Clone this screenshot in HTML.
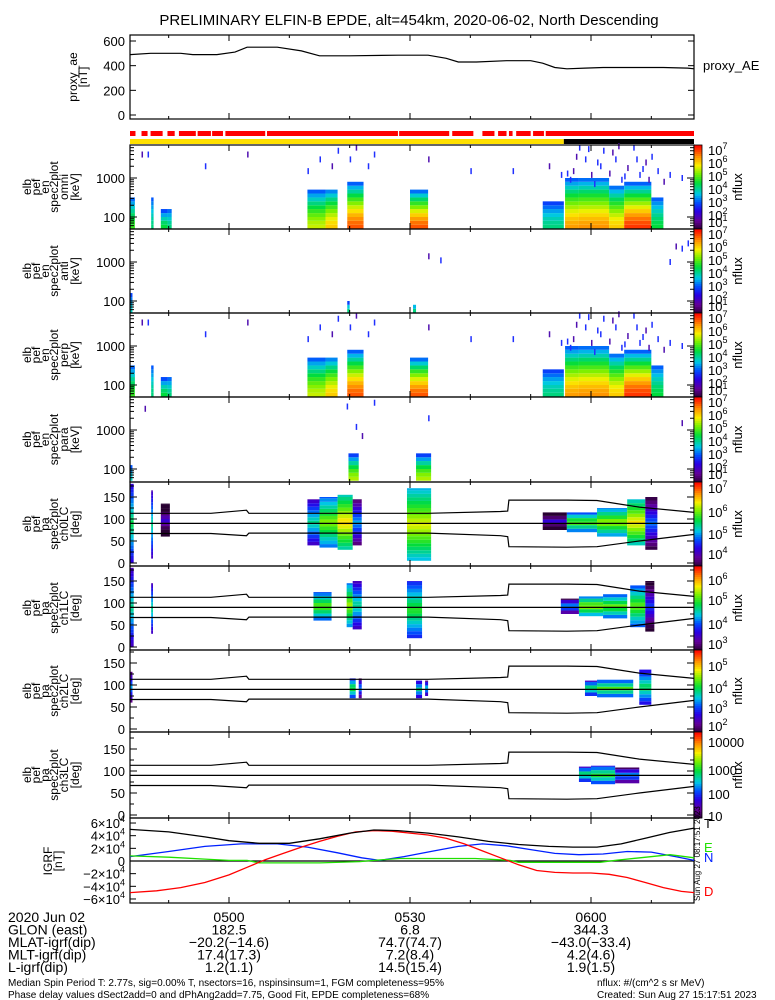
<!DOCTYPE html>
<html><head><meta charset="utf-8">
<style>
html,body{margin:0;padding:0;background:#fff;}
svg{display:block;font-family:"Liberation Sans",sans-serif;}
</style></head>
<body>
<svg id="c" width="775" height="1000" viewBox="0 0 775 1000" xmlns="http://www.w3.org/2000/svg">
<text x="409" y="25" font-size="15" text-anchor="middle">PRELIMINARY ELFIN-B EPDE, alt=454km, 2020-06-02, North Descending</text>
</svg>
<script>
// ---------- data ----------
// time in minutes relative to 05:00 UT
const aeTimes=[-16.4,-13,-8,-6,-2,1,3,8,12,15,20,28,33,36,38,41,46,50,52,54,56,59,62,66,72,76,77.1];
const aeValues=[490,500,500,490,490,510,550,550,520,480,480,485,485,460,430,430,440,440,420,385,375,380,385,385,385,380,375];
const tickTimes=[0,30,60];
const tickLabels=["0500","0530","0600"];
const redGaps=[[-15.5,-14.5],[-13.5,-13],[-11,-10.2],[-9,-8.3],[-5.5,-5.2],[-3,-2.8],[-1,-0.6],[6,6.3],[28,28.2],[36.5,37],[40.5,42],[44,44.6],[46,46.4],[47,47.6],[50,50.4],[52.2,52.5]];
const eclipseStart=55.5;
// energy spectrogram bursts: start, end (min), top energy (keV), peak (0..1 of colorbar)
const omniT0=[-16.4,-12.9,-11.3,-10.2,13,16,19.6,30,52,55.7,58,63,65.5,70];
const omniT1=[-15.6,-12.5,-10.2,-9.5,16,18,22.3,33,55.5,58,63,65.5,70,72];
const omniTop=[300,300,130,150,450,500,700,450,200,900,950,600,700,300];
const omniPeak=[0.6,0.5,0.55,0.5,0.72,0.8,0.92,0.92,0.5,0.85,0.86,0.8,0.95,0.55];
const omniDotT=[-14.5,-13.5,-4,3,13,15,17,18,20,21,23,24,33,40,47,53,55,56,57,58,59,60,61,62,63,64,65,66,67,68,69,70,71,72,73,75,57.5,59.5,61.5,63.5,65.5,67.5,69.5,56.5,60.5,64.5,68.5];
const omniDotK=[4000,4000,2000,4000,1500,3000,2000,5000,3000,6000,2000,4000,3000,1500,1500,2000,1200,1300,1500,6000,3000,1200,2500,5000,1300,3000,900,1800,6000,1200,2500,3500,1500,800,1200,1000,3500,5500,2000,4500,1100,3000,900,900,700,6500,1700];
const antiT0=[-16.4,19.6,30.5];
const antiT1=[-16,20,31];
const antiTop=[130,80,75];
const antiPeak=[0.45,0.5,0.5];
const antiDotT=[33,35,73,74,75,76];
const antiDotK=[1400,1100,1000,2500,2200,3000];
const paraT0=[-16.4,19.8,31];
const paraT1=[-16,21.5,33.5];
const paraTop=[110,200,200];
const paraPeak=[0.45,0.7,0.7];
const paraDotT=[-14,19.5,21,22,24,33,75];
const paraDotK=[3500,4000,1200,700,5000,2000,1500];
// pitch-angle bursts: start,end (min), lo/hi pitch (deg), peak
const ch0T0=[-16.4,-12.9,-11.3,13,15,18,20.5,29.5,52,56,61,66,69];
const ch0T1=[-15.8,-12.6,-9.8,15,18,20.5,22,33.5,56,61,66,69,71];
const ch0Lo=[0,10,60,40,35,30,40,5,75,70,60,40,30];
const ch0Hi=[180,165,135,145,150,155,145,170,115,115,125,145,150];
const ch0Pk=[0.55,0.5,0.2,0.5,0.68,0.8,0.4,0.75,0.2,0.65,0.7,0.78,0.35];
const ch1T0=[-16.4,-12.9,14,19.5,20.5,29.5,55,58,62,66.5,69];
const ch1T1=[-15.8,-12.6,17,20.5,22,32,58,62,66,69,70.5];
const ch1Lo=[0,30,60,45,40,20,75,70,65,45,35];
const ch1Hi=[180,145,125,145,150,150,110,115,120,140,150];
const ch1Pk=[0.5,0.5,0.65,0.7,0.5,0.6,0.4,0.7,0.65,0.65,0.3];
const ch2T0=[-16.4,20,21.5,31,32.5,59,61,68];
const ch2T1=[-16,21,22,32,33,61,67,70];
const ch2Lo=[60,70,70,70,75,75,72,55];
const ch2Hi=[130,115,115,110,110,110,112,135];
const ch2Pk=[0.4,0.6,0.4,0.5,0.45,0.55,0.62,0.55];
const ch3T0=[58,60,64];
const ch3T1=[60,64,68];
const ch3Lo=[75,70,72];
const ch3Hi=[110,112,108];
const ch3Pk=[0.55,0.6,0.4];
// loss-cone boundaries (deg)
const lcTimes=[-16.4,-3,2.9,3.3,20,33,45,46.2,46.4,56,61,68,77.1];
const lcUp=[113,113,120,113,113,113,117,118,143,143,142,127,115];
const lcDn=[67,67,62,68,68,68,62,60,37,36,37,50,65];
// IGRF components (x1e4 nT)
const igrfTT=[-16.4,-10,-4,0,5,10,15,20,24,28,33,38,43,48,53,57,61,65,69,73,77.1];
const igrfT=[5.0,4.6,3.8,3.2,2.8,2.8,3.5,4.4,4.9,4.8,4.4,3.8,3.1,2.6,2.3,2.2,2.2,2.7,3.6,4.5,5.2];
const igrfNT=[-16.4,-10,-4,2,8,13,18,22,25,29,34,38,42,46,50,54,58,62,66,70,74,77.1];
const igrfN=[0.7,1.5,2.3,2.7,2.7,2.2,1.3,0.5,0.1,0.7,1.6,2.3,2.7,2.4,1.8,1.2,1.0,1.1,1.5,1.4,0.7,0.1];
const igrfET=[-16.4,-10,-4,0,3,5,15.1,21.7,24,28.3,40.8,46.6,48,53.2,61.5,64,68.1,73.1,77.1];
const igrfE=[0.8,0.6,0.3,0.1,0.1,-0.3,-0.3,-0.1,0.1,0.4,0.4,0.1,-0.2,-0.2,-0.2,0.1,0.5,1.0,0.5];
const igrfDT=[-16.4,-12,-8,-4,0,3,6,9,12,15,18,21,24,27,30,33,36,39,42,45,48,51,54,57,60,63,66,69,72,75,77.1];
const igrfD=[-5.0,-4.7,-4.2,-3.4,-2.2,-1.0,0.2,1.2,2.2,3.1,3.9,4.6,4.8,4.7,4.4,4.1,3.6,2.7,1.6,0.5,-0.6,-1.5,-1.8,-1.9,-1.9,-2.1,-2.6,-3.4,-4.2,-4.8,-5.0];

// ---------- helpers ----------
const svg=document.getElementById('c');
const NS='http://www.w3.org/2000/svg';
const X0=130,X1=694;
function tx(m){return 229+m*181/30;}
function el(tag,attrs,parent){const e=document.createElementNS(NS,tag);for(const k in attrs)e.setAttribute(k,attrs[k]);(parent||svg).appendChild(e);return e;}
const stops=[[0,[40,0,50]],[0.1,[100,0,150]],[0.22,[40,0,230]],[0.32,[0,80,255]],[0.42,[0,200,230]],[0.55,[0,220,60]],[0.66,[120,240,0]],[0.76,[250,240,0]],[0.87,[255,140,0]],[1,[255,0,0]]];
function cmap(v){v=Math.max(0,Math.min(1,v));for(let i=1;i<stops.length;i++){if(v<=stops[i][0]){const a=stops[i-1],b=stops[i],f=(v-a[0])/(b[0]-a[0]);const c=a[1].map((x,j)=>Math.round(x+(b[1][j]-x)*f));return `rgb(${c[0]},${c[1]},${c[2]})`;}}return 'rgb(255,0,0)';}
function rotLabel(lines,cy,xs,name){
  const g=el('g',{});
  
  
  lines.forEach((s,i)=>{const t=el('text',{x:xs[i],y:cy,'font-size':12,'text-anchor':'middle',transform:`rotate(-90 ${xs[i]} ${cy})`},g);t.textContent=s;});
}
function frame(y0,y1,name){
  const r=el('rect',{x:X0,y:y0,width:X1-X0,height:y1-y0,fill:'none',stroke:'#000','stroke-width':1.2});
  
  
  for(let m=-10;m<=70;m+=10){const x=tx(m);const L=(m%30===0)?6:3;el('line',{x1:x,y1:y0,x2:x,y2:y0+L,stroke:'#000'});el('line',{x1:x,y1:y1,x2:x,y2:y1-L,stroke:'#000'});}
}
function ylabel(txt,x,y,name,fs){const t=el('text',{x:x,y:y,'font-size':fs||13,'text-anchor':'end'});t.textContent=txt;return t;}
function colorbar(y0,y1,labels,name){
  const g=el('g',{});
  
  
  const n=40;for(let i=0;i<n;i++){const h=(y1-y0)/n;el('rect',{x:694,y:y1-(i+1)*h,width:8,height:h+0.5,fill:cmap((i+0.5)/n)},g);}
  el('rect',{x:694,y:y0,width:8,height:y1-y0,fill:'none',stroke:'#000','stroke-width':0.8},g);
  labels.forEach(l=>{const t=el('text',{x:708,y:l[1]+5,'font-size':13},g);if(l[2]){t.textContent='10';const s=el('tspan',{dy:-6,'font-size':9},t);s.textContent=l[0];}else t.textContent=l[0];});
  const cy=(y0+y1)/2;const t=el('text',{x:742,y:cy,'font-size':13,'text-anchor':'middle',transform:`rotate(-90 742 ${cy})`},g);t.textContent='nflux';
}

// ---------- proxy AE ----------
frame(35,119,'proxy-ae-panel');
const aeY=v=>115-v*74/600;
[[600,'600'],[400,'400'],[200,'200'],[0,'0']].forEach(p=>{ylabel(p[1],125,aeY(p[0])+5,'ae-tick-'+p[1]);el('line',{x1:X0,y1:aeY(p[0]),x2:X0+6,y2:aeY(p[0]),stroke:'#000'});el('line',{x1:X1,y1:aeY(p[0]),x2:X1-6,y2:aeY(p[0]),stroke:'#000'});});
{let d='';aeTimes.forEach((t,i)=>{d+=(i?'L':'M')+tx(t).toFixed(1)+','+aeY(aeValues[i]).toFixed(1);});
const p=el('path',{d:d,fill:'none',stroke:'#000','stroke-width':1.2});

}
rotLabel(['proxy_ae','[nT]'],77,[77,87],'proxy-ae-axis-title');
{const t=el('text',{x:703,y:70,'font-size':13});t.textContent='proxy_AE';}

// ---------- status bars ----------
{const r=el('rect',{x:X0,y:131,width:X1-X0,height:5,fill:'#ff0000'});
redGaps.forEach(g=>el('rect',{x:tx(g[0]),y:130,width:tx(g[1])-tx(g[0]),height:7,fill:'#fff'}));
const y=el('rect',{x:X0,y:139,width:tx(eclipseStart)-X0,height:5,fill:'#ffe000'});
const b=el('rect',{x:tx(eclipseStart),y:139,width:X1-tx(eclipseStart),height:5,fill:'#000'});}

// ---------- energy spectrograms ----------
function energyPanel(y0,y1,T0,T1,Top,Pk,DT,DK,name,sub){
  const ey=k=>(y0+72)-Math.log10(k/100)*39;
  const g=el('g',{});
  
  
  const bins=[50,63,80,100,126,160,200,252,317,400,504,635,800,1000,1260];
  T0.forEach((t0,i)=>{
    const x0=tx(t0),x1=tx(T1[i]);
    for(let b=0;b<bins.length-1;b++){
      if(bins[b]>Top[i])break;
      const f=Math.log(bins[b]/50)/Math.log(Top[i]/50);
      const v=Pk[i]-Math.pow(f,1.4)*(Pk[i]-0.3);
      const ya=Math.max(y0,ey(bins[b+1])),yb=Math.min(y1,ey(bins[b]));
      el('rect',{x:x0,y:ya,width:Math.max(1.5,x1-x0),height:yb-ya,fill:cmap(v)},g);
    }
  });
  DT.forEach((t,i)=>el('rect',{x:tx(t),y:ey(DK[i])-3,width:1.5,height:6,fill:i%3?'#2030ff':'#5010b0'},g));
  frame(y0,y1,name+'-frame');
  [[1000,'1000'],[100,'100']].forEach(p=>{ylabel(p[1],125,ey(p[0])+5,name+'-tick-'+p[1]);el('line',{x1:X0,y1:ey(p[0]),x2:X0+7,y2:ey(p[0]),stroke:'#000'});el('line',{x1:X1,y1:ey(p[0]),x2:X1-7,y2:ey(p[0]),stroke:'#000'});});
  [60,70,80,90,200,300,400,500,600,700,800,900,2000,3000,4000,5000,6000].forEach(k=>{const y=ey(k);if(y>y0&&y<y1){el('line',{x1:X0,y1:y,x2:X0+4,y2:y,stroke:'#000'});el('line',{x1:X1,y1:y,x2:X1-4,y2:y,stroke:'#000'});}});
  rotLabel(['elb','pef','en','spec2plot',sub,'[keV]'],(y0+y1)/2,[31,40,49,58,68,79],name+'-axis-title');
  colorbar(y0,y1,[['7',y0+5,1],['6',y0+18,1],['5',y0+31,1],['4',y0+44,1],['3',y0+57,1],['2',y0+70,1],['1',y0+77,1]],name+'-colorbar');
}
energyPanel(145,229,omniT0,omniT1,omniTop,omniPeak,omniDotT,omniDotK,'omni','omni');
energyPanel(229,313,antiT0,antiT1,antiTop,antiPeak,antiDotT,antiDotK,'anti','anti');
energyPanel(313,397,omniT0,omniT1,omniTop,omniPeak,omniDotT,omniDotK,'perp','perp');
energyPanel(397,482,paraT0,paraT1,paraTop,paraPeak,paraDotT,paraDotK,'para','para');

// ---------- pitch angle spectrograms ----------
function paPanel(y0,y1,T0,T1,Lo,Hi,Pk,name,sub,cbl){
  const py=pa=>(y1-3)-pa*0.44;
  const g=el('g',{});
  
  
  T0.forEach((t0,i)=>{
    const x0=tx(t0),x1=tx(T1[i]);const mid=(Lo[i]+Hi[i])/2,half=(Hi[i]-Lo[i])/2;
    for(let pa=Lo[i];pa<Hi[i];pa+=8){
      const v=Pk[i]-0.35*Math.abs(pa+4-mid)/half;
      const ya=Math.max(y0,py(Math.min(pa+8,Hi[i]))),yb=py(pa);
      el('rect',{x:x0,y:ya,width:Math.max(1.5,x1-x0),height:yb-ya,fill:cmap(v)},g);
    }
  });
  frame(y0,y1,name+'-frame');
  [150,100,50,0].forEach(p=>{ylabel(String(p),125,py(p)+5,name+'-tick-'+p);el('line',{x1:X0,y1:py(p),x2:X0+7,y2:py(p),stroke:'#000'});el('line',{x1:X1,y1:py(p),x2:X1-7,y2:py(p),stroke:'#000'});});
  [25,75,125,175].forEach(p=>{el('line',{x1:X0,y1:py(p),x2:X0+4,y2:py(p),stroke:'#000'});el('line',{x1:X1,y1:py(p),x2:X1-4,y2:py(p),stroke:'#000'});});
  el('line',{x1:X0,y1:py(90),x2:X1,y2:py(90),stroke:'#000','stroke-width':1.2});
  let du='',dd='';lcTimes.forEach((t,i)=>{du+=(i?'L':'M')+tx(t).toFixed(1)+','+py(lcUp[i]).toFixed(1);dd+=(i?'L':'M')+tx(t).toFixed(1)+','+py(lcDn[i]).toFixed(1);});
  const a=el('path',{d:du,fill:'none',stroke:'#000','stroke-width':1.2});
  const b=el('path',{d:dd,fill:'none',stroke:'#000','stroke-width':1.2});
  rotLabel(['elb','pef','pa','spec2plot',sub,'[deg]'],(y0+y1)/2,[31,40,49,58,68,79],name+'-axis-title');
  colorbar(y0,y1,cbl.map(c=>[c[0],y0+c[1],c[2]]),name+'-colorbar');
}
paPanel(482,566,ch0T0,ch0T1,ch0Lo,ch0Hi,ch0Pk,'ch0lc','ch0LC',[['7',6,1],['6',30,1],['5',52,1],['4',72,1]]);
paPanel(566,650,ch1T0,ch1T1,ch1Lo,ch1Hi,ch1Pk,'ch1lc','ch1LC',[['6',14,1],['5',34,1],['4',58,1],['3',78,1]]);
paPanel(650,732,ch2T0,ch2T1,ch2Lo,ch2Hi,ch2Pk,'ch2lc','ch2LC',[['5',16,1],['4',38,1],['3',58,1],['2',76,1]]);
paPanel(732,818,ch3T0,ch3T1,ch3Lo,ch3Hi,ch3Pk,'ch3lc','ch3LC',[['10000',10,0],['1000',38,0],['100',62,0],['10',84,0]]);

// ---------- IGRF ----------
frame(818,903,'igrf-panel');
const iy=v=>861-v*6.33;
[6,4,2,0,-2,-4,-6].forEach(v=>{const t=ylabel('',125,iy(v)+5,'igrf-tick-'+v);if(v===0)t.textContent='0';else{t.textContent=(v<0?'\u2212':'')+Math.abs(v)+'\u00d710';const s=el('tspan',{dy:-6,'font-size':9},t);s.textContent='4';}el('line',{x1:X0,y1:iy(v),x2:X0+6,y2:iy(v),stroke:'#000'});});
el('line',{x1:X0,y1:iy(0),x2:X1,y2:iy(0),stroke:'#000','stroke-width':1.2});
function igrfLine(T,V,col,name){let d='';T.forEach((t,i)=>{d+=(i?'L':'M')+tx(t).toFixed(1)+','+iy(V[i]).toFixed(1);});const p=el('path',{d:d,fill:'none',stroke:col,'stroke-width':1.3});}
igrfLine(igrfNT,igrfN,'#0020ff','igrf-n-line');
igrfLine(igrfET,igrfE,'#20e000','igrf-e-line');
igrfLine(igrfDT,igrfD,'#ff0000','igrf-d-line');
igrfLine(igrfTT,igrfT,'#000','igrf-t-line');
rotLabel(['IGRF','[nT]'],861,[52,62],'igrf-axis-title');
[['T','#000',828],['E','#20e000',852],['N','#0020ff',862],['D','#ff0000',896]].forEach(l=>{const t=el('text',{x:704,y:l[2],'font-size':13,fill:l[1]});t.textContent=l[0];});
{const t=el('text',{x:700,y:901,'font-size':8,transform:'rotate(-90 700 901)'});t.textContent='Sun Aug 27 08:17:51 2023';}

// ---------- ephemeris table ----------
const rowNames=['2020 Jun 02','GLON (east)','MLAT-igrf(dip)','MLT-igrf(dip)','L-igrf(dip)'];
const rowVals=[tickLabels,['182.5','6.8','344.3'],['\u221220.2(\u221214.6)','74.7(74.7)','\u221243.0(\u221233.4)'],['17.4(17.3)','7.2(8.4)','4.2(4.6)'],['1.2(1.1)','14.5(15.4)','1.9(1.5)']];
rowNames.forEach((n,r)=>{const y=922+r*12.5;const t=el('text',{x:8,y:y,'font-size':14});t.textContent=n;
  rowVals[r].forEach((v,i)=>{const u=el('text',{x:tx(tickTimes[i]),y:y,'font-size':14,'text-anchor':'middle'});u.textContent=v;});});
[['Median Spin Period T: 2.77s, sig=0.00% T, nsectors=16, nspinsinsum=1, FGM completeness=95%',8,986],['Phase delay values dSect2add=0 and dPhAng2add=7.75, Good Fit, EPDE completeness=68%',8,998],['nflux: #/(cm^2 s sr MeV)',597,986],['Created: Sun Aug 27 15:17:51 2023',597,998]].forEach(f=>{const t=el('text',{x:f[1],y:f[2],'font-size':10});t.textContent=f[0];});
</script>
</body></html>
